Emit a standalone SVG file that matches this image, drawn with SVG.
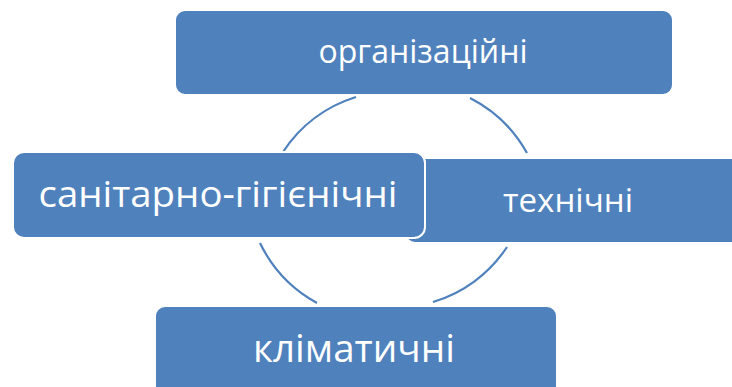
<svg xmlns="http://www.w3.org/2000/svg" width="732" height="387" viewBox="0 0 732 387">
  <style>
    .box { fill: #4f81bd; stroke: #ffffff; stroke-width: 2; }
    .lbl { fill: #ffffff; font-family: "Open Sans", "Noto Sans", "DejaVu Sans", sans-serif; text-anchor: middle; }
    .arc { fill: none; stroke: #4f81bd; stroke-width: 2.2; }
  </style>
  <rect width="732" height="387" fill="#ffffff"/>
  <g id="connectors">
    <path class="arc" d="M 283 152 A 135 135 0 0 1 356 97"/>
    <path class="arc" d="M 470 98 A 135 135 0 0 1 527 153"/>
    <path class="arc" d="M 507 247 A 135 135 0 0 1 433 302"/>
    <path class="arc" d="M 317 303 A 135 135 0 0 1 260 243"/>
  </g>
  <g id="node-tekhnichni">
    <rect class="box" x="405" y="158" width="360" height="85" rx="10"/>
    <text class="lbl" x="568" y="212" font-size="32" textLength="130" lengthAdjust="spacingAndGlyphs">технічні</text>
  </g>
  <g id="node-orhanizatsiini">
    <rect class="box" x="175" y="10" width="498" height="85" rx="10"/>
    <text class="lbl" x="423" y="63" font-size="32" textLength="209" lengthAdjust="spacingAndGlyphs">організаційні</text>
  </g>
  <g id="node-sanitarno">
    <rect class="box" x="13" y="152" width="412" height="86" rx="11" stroke-width="3"/>
    <text class="lbl" x="218" y="207" font-size="37" textLength="359" lengthAdjust="spacingAndGlyphs">санітарно-гігієнічні</text>
  </g>
  <g id="node-klimatychni">
    <rect class="box" x="155" y="306" width="402" height="95" rx="10"/>
    <text class="lbl" x="354" y="362" font-size="38" textLength="202" lengthAdjust="spacingAndGlyphs">кліматичні</text>
  </g>
</svg>
